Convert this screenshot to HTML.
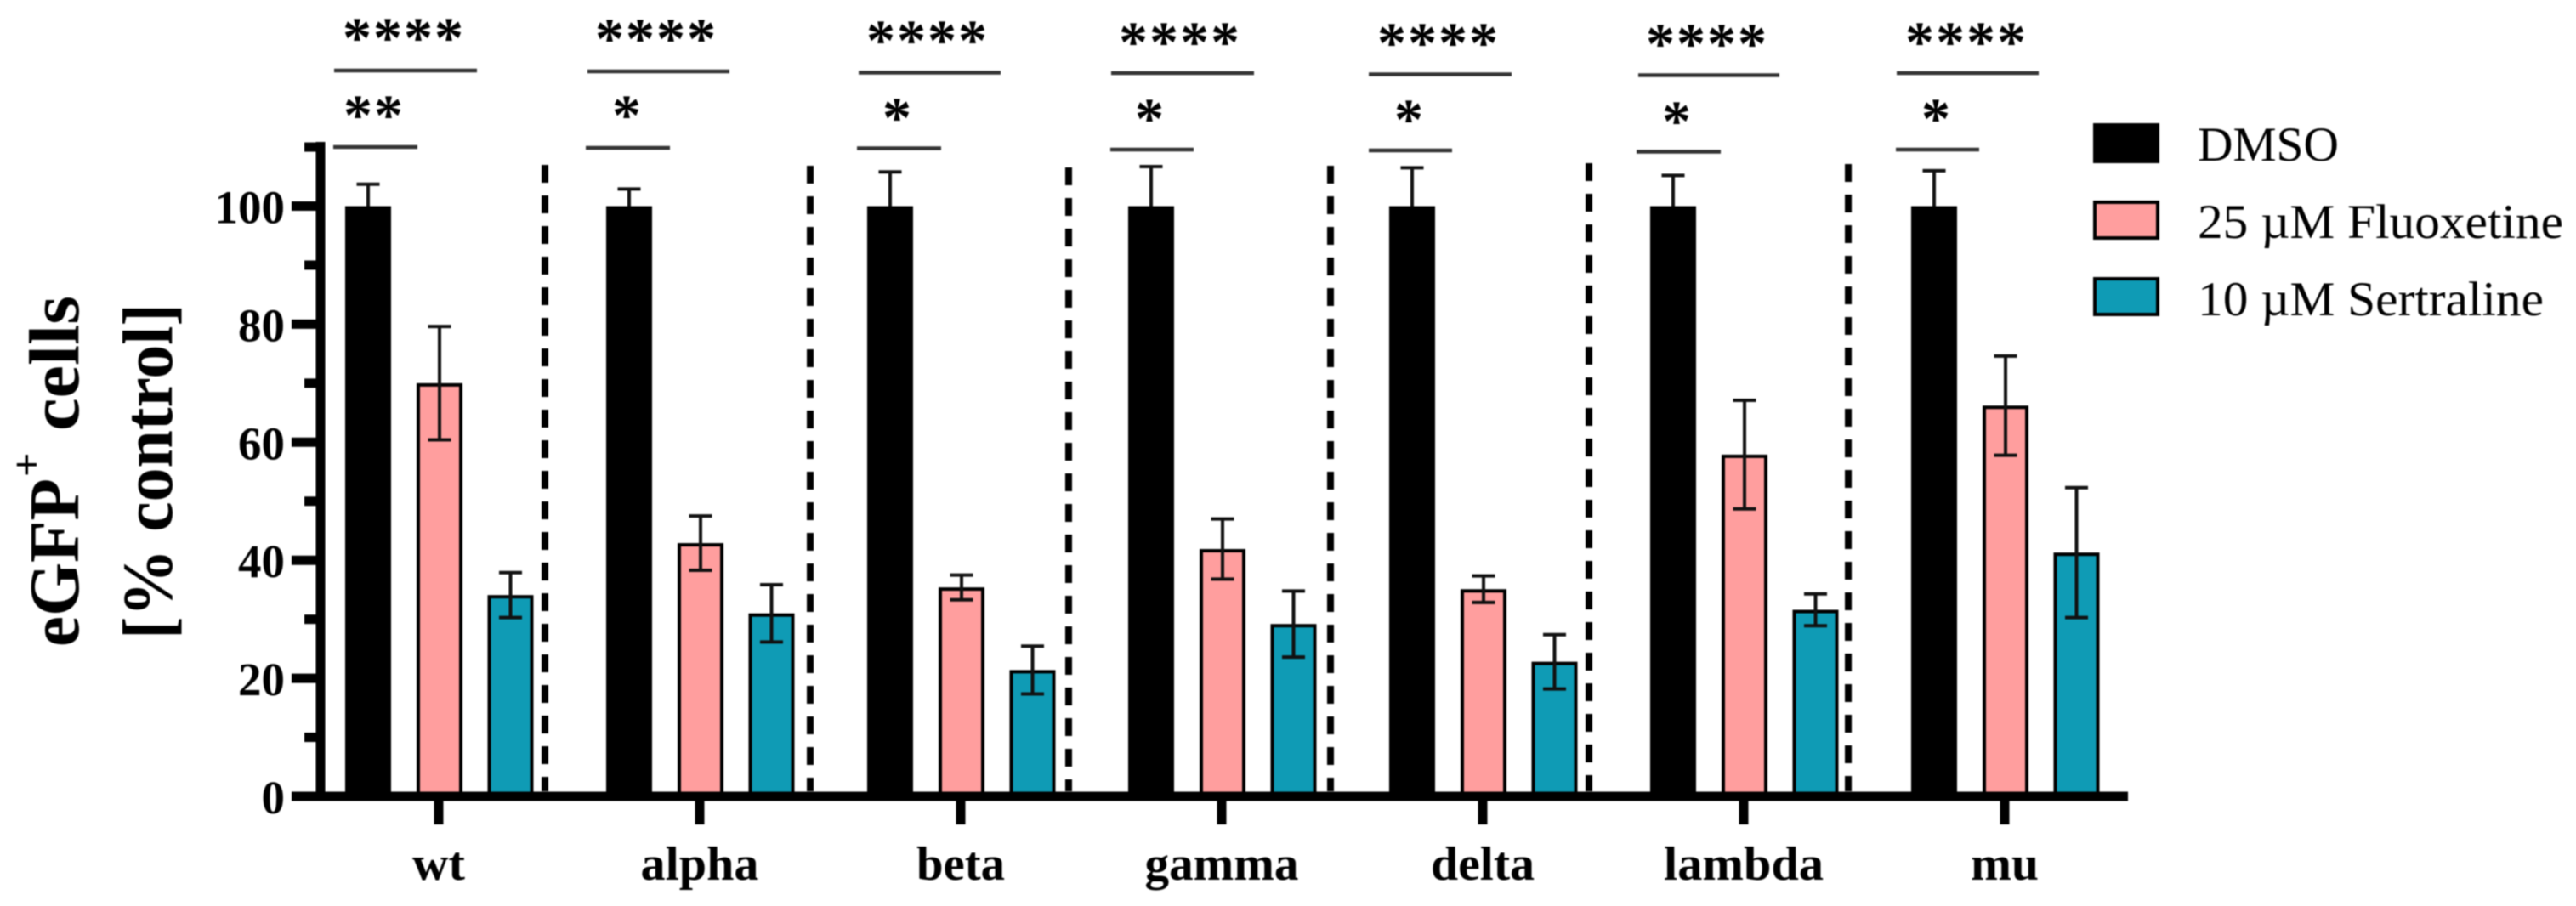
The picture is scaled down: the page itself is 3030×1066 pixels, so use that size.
<!DOCTYPE html>
<html lang="en">
<head>
<meta charset="utf-8">
<title>eGFP+ cells by variant</title>
<style>
html,body{margin:0;padding:0;background:#fff;}
body{width:3030px;height:1066px;overflow:hidden;}
svg{display:block;filter:blur(0.7px);}
text{font-family:"Liberation Serif",serif;fill:#000;}
.b{font-weight:bold;}
.sep{stroke:#000;stroke-width:8;stroke-dasharray:21 15;fill:none;}
.br{stroke:#333;stroke-width:4.5;fill:none;}
.st{font-size:68px;font-weight:bold;text-anchor:middle;letter-spacing:2px;}
.lg{font-size:57px;}
</style>
</head>
<body>
<svg id="chart" width="3030" height="1066" viewBox="0 0 3030 1066" xmlns="http://www.w3.org/2000/svg">
  <g id="bars"></g>

  <g>
    <line class="sep" x1="641" y1="194" x2="641" y2="931"/>
    <line class="sep" x1="953" y1="195" x2="953" y2="931"/>
    <line class="sep" x1="1257" y1="197" x2="1257" y2="931"/>
    <line class="sep" x1="1565" y1="195" x2="1565" y2="931"/>
    <line class="sep" x1="1869" y1="192" x2="1869" y2="931"/>
    <line class="sep" x1="2174" y1="193" x2="2174" y2="931"/>
  </g>

  <g id="axes"></g>

  <g>
    <text class="b" transform="translate(92,0) rotate(-90)" font-size="84"><tspan x="-761" textLength="198" lengthAdjust="spacingAndGlyphs">eGFP</tspan><tspan x="-561" dy="-44" font-size="50">+</tspan><tspan x="-507" dy="44" textLength="159" lengthAdjust="spacingAndGlyphs">cells</tspan></text>
    <text class="b" transform="translate(202,0) rotate(-90)" font-size="84" x="-752" y="0" textLength="395" lengthAdjust="spacingAndGlyphs">[% control]</text>
  </g>

  <g>
    <line class="br" x1="393" y1="83" x2="561" y2="83"/>
    <line class="br" x1="392" y1="173" x2="491" y2="173"/>
    <text class="st" x="475" y="67">****</text>
    <text class="st" x="440" y="158">**</text>

    <line class="br" x1="691" y1="84" x2="858" y2="84"/>
    <line class="br" x1="689" y1="174" x2="788" y2="174"/>
    <text class="st" x="772" y="68">****</text>
    <text class="st" x="738" y="158">*</text>

    <line class="br" x1="1010" y1="85.5" x2="1177" y2="85.5"/>
    <line class="br" x1="1008" y1="174.5" x2="1107" y2="174.5"/>
    <text class="st" x="1091" y="70">****</text>
    <text class="st" x="1056" y="161">*</text>

    <line class="br" x1="1307" y1="86" x2="1475" y2="86"/>
    <line class="br" x1="1306" y1="176" x2="1404" y2="176"/>
    <text class="st" x="1388" y="72">****</text>
    <text class="st" x="1353" y="162">*</text>

    <line class="br" x1="1610" y1="87.5" x2="1778" y2="87.5"/>
    <line class="br" x1="1610" y1="177" x2="1708" y2="177"/>
    <text class="st" x="1692" y="73">****</text>
    <text class="st" x="1658" y="163">*</text>

    <line class="br" x1="1927" y1="88.5" x2="2093" y2="88.5"/>
    <line class="br" x1="1925" y1="178.5" x2="2024" y2="178.5"/>
    <text class="st" x="2008" y="74">****</text>
    <text class="st" x="1973" y="165">*</text>

    <line class="br" x1="2231" y1="86" x2="2398" y2="86"/>
    <line class="br" x1="2230" y1="176" x2="2328" y2="176"/>
    <text class="st" x="2313" y="72">****</text>
    <text class="st" x="2278" y="162">*</text>
  </g>

  <g>
    <g>
      <rect x="2464" y="147" width="74" height="43" fill="#000" stroke="#000" stroke-width="4"/>
      <text class="lg" x="2585" y="189" textLength="166" lengthAdjust="spacingAndGlyphs">DMSO</text>
    </g>
    <g>
      <rect x="2464" y="238" width="74" height="42" fill="#FF9E9E" stroke="#000" stroke-width="4"/>
      <text class="lg" x="2585" y="280" textLength="430" lengthAdjust="spacingAndGlyphs">25 µM Fluoxetine</text>
    </g>
    <g>
      <rect x="2464" y="328" width="74" height="42" fill="#0F9BB5" stroke="#000" stroke-width="4"/>
      <text class="lg" x="2585" y="371" textLength="407" lengthAdjust="spacingAndGlyphs">10 µM Sertraline</text>
    </g>
  </g>
</svg>

<script>
const categories = ['wt', 'alpha', 'beta', 'gamma', 'delta', 'lambda', 'mu'];
const categoryLabelWidths = [62, 139, 104, 181, 122, 188, 80];
const dmsoValues = [100, 100, 100, 100, 100, 100, 100];
const dmsoErrors = [3.7, 2.9, 5.8, 6.7, 6.5, 5.2, 6.0];
const fluoxetineValues = [70, 42.9, 35.4, 41.9, 35.1, 57.9, 66.2];
const fluoxetineErrors = [9.6, 4.6, 2.1, 5.1, 2.25, 9.2, 8.4];
const sertralineValues = [34.1, 31, 21.4, 29.2, 22.8, 31.6, 41.3];
const sertralineErrors = [3.8, 4.85, 4.05, 5.6, 4.6, 2.7, 11];
const yMajorTicks = [0, 20, 40, 60, 80, 100];
const yMinorTicks = [10, 30, 50, 70, 90, 110];

const NS = 'http://www.w3.org/2000/svg';
const barsLayer = document.getElementById('bars');
const axesLayer = document.getElementById('axes');

function yScale(v) { return 937 - 6.945 * v; }
function xCenter(i) { return 516 + 307 * i; }

function line(parent, x1, y1, x2, y2, width, color) {
  const el = document.createElementNS(NS, 'line');
  el.setAttribute('x1', x1);
  el.setAttribute('y1', y1);
  el.setAttribute('x2', x2);
  el.setAttribute('y2', y2);
  el.setAttribute('stroke', color);
  el.setAttribute('stroke-width', width);
  parent.appendChild(el);
  return el;
}

function drawSeries(name, values, errors, offset, fill, upperOnly) {
  values.forEach(function (v, i) {
    const cx = xCenter(i) + offset;
    const barTop = yScale(v) + 2;
    const bar = document.createElementNS(NS, 'rect');
    
    
    bar.setAttribute('x', cx - 25);
    bar.setAttribute('y', barTop);
    bar.setAttribute('width', 50);
    bar.setAttribute('height', yScale(0) - barTop);
    bar.setAttribute('fill', fill);
    bar.setAttribute('stroke', '#000');
    bar.setAttribute('stroke-width', 4);
    barsLayer.appendChild(bar);

    const top = yScale(v + errors[i]);
    const bottom = upperOnly ? yScale(v) : yScale(v - errors[i]);
    const stem = line(barsLayer, cx, top, cx, bottom, 4, '#111');
    
    
    const capTop = line(barsLayer, cx - 13.5, top, cx + 13.5, top, 4, '#111');
    
    
    if (!upperOnly) {
      const capLow = line(barsLayer, cx - 13.5, bottom, cx + 13.5, bottom, 4, '#111');
      
      
    }
  });
}

drawSeries('dmso', dmsoValues, dmsoErrors, -83, '#000', true);
drawSeries('fluoxetine', fluoxetineValues, fluoxetineErrors, 1, '#FF9E9E', false);
drawSeries('sertraline', sertralineValues, sertralineErrors, 84.5, '#0F9BB5', false);

const yAxisLine = line(axesLayer, 377, yScale(110) - 6, 377, yScale(0) + 5.5, 11, '#000');



const xAxisLine = line(axesLayer, 343, yScale(0), 2503, yScale(0), 11, '#000');



yMajorTicks.forEach(function (t) {
  const tick = line(axesLayer, 343, yScale(t), 372, yScale(t), 11, '#000');
  
  
  const label = document.createElementNS(NS, 'text');
  
  
  label.setAttribute('x', 335);
  label.setAttribute('y', yScale(t) + 20);
  label.setAttribute('text-anchor', 'end');
  label.setAttribute('font-size', 55);
  label.setAttribute('class', 'b');
  label.textContent = t;
  axesLayer.appendChild(label);
});

yMinorTicks.forEach(function (t) {
  const tick = line(axesLayer, 358, yScale(t), 372, yScale(t), 11, '#000');
  
  
});

categories.forEach(function (c, i) {
  const tick = line(axesLayer, xCenter(i), yScale(0), xCenter(i), 970, 11, '#000');
  
  
  const label = document.createElementNS(NS, 'text');
  
  
  label.setAttribute('x', xCenter(i) - categoryLabelWidths[i] / 2);
  label.setAttribute('y', 1035);
  label.setAttribute('font-size', 56);
  label.setAttribute('class', 'b');
  label.setAttribute('textLength', categoryLabelWidths[i]);
  label.setAttribute('lengthAdjust', 'spacingAndGlyphs');
  label.textContent = c;
  axesLayer.appendChild(label);
});
</script>
</body>
</html>
